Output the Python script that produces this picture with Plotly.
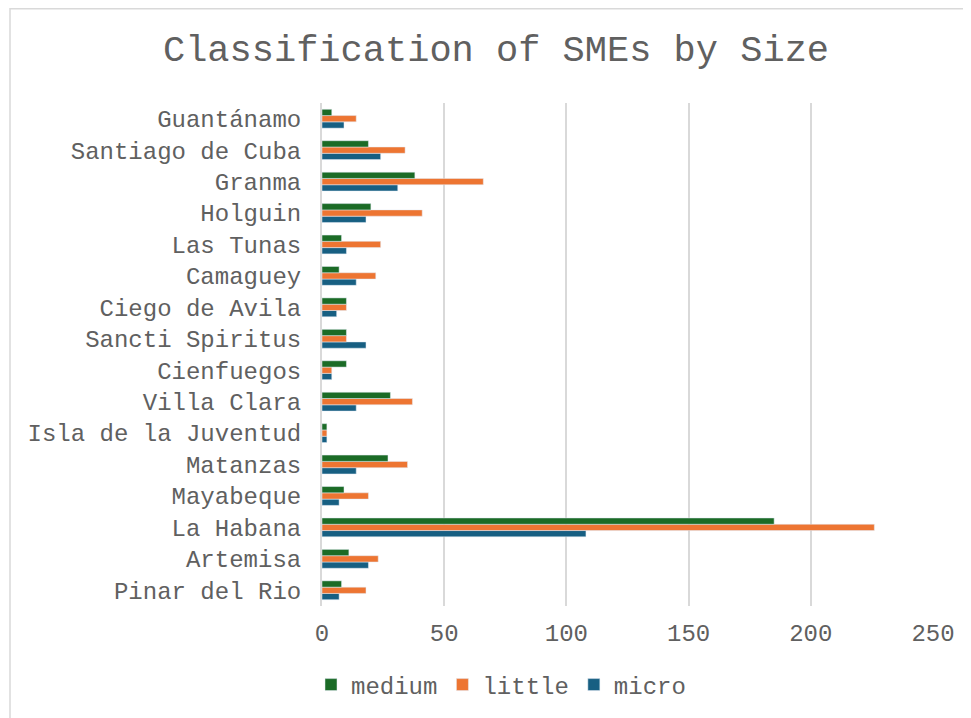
import plotly.graph_objects as go

provinces = ["Pinar del Rio", "Artemisa", "La Habana", "Mayabeque", "Matanzas",
             "Isla de la Juventud", "Villa Clara", "Cienfuegos", "Sancti Spiritus",
             "Ciego de Avila", "Camaguey", "Las Tunas", "Holguin", "Granma",
             "Santiago de Cuba", "Guantánamo"]
medium = [8, 11, 185, 9, 27, 2, 28, 10, 10, 10, 7, 8, 20, 38, 19, 4]
little = [18, 23, 226, 19, 35, 2, 37, 4, 10, 10, 22, 24, 41, 66, 34, 14]
micro = [7, 19, 108, 7, 14, 2, 14, 4, 18, 6, 14, 10, 18, 31, 24, 9]
x_ticks = [0, 50, 100, 150, 200, 250]

FONT = "Liberation Mono, Courier New, monospace"
GREY = "#606060"

fig = go.Figure()
fig.add_trace(go.Bar(name="micro", y=provinces, x=micro, orientation="h",
                     marker=dict(color="#175f82")))
fig.add_trace(go.Bar(name="little", y=provinces, x=little, orientation="h",
                     marker=dict(color="#ed7532")))
fig.add_trace(go.Bar(name="medium", y=provinces, x=medium, orientation="h",
                     marker=dict(color="#1b6b26")))

OFF = 8  # page body margin
W, H = 971 - OFF, 718 - OFF
L, T = 322 - OFF, 103 - OFF
R = 971 - 933
B = 718 - 606
PW, PH = W - L - R, H - T - B

fig.update_layout(
    width=W, height=H,
    margin=dict(l=L, r=R, t=T, b=B, autoexpand=False),
    paper_bgcolor="white", plot_bgcolor="white",
    barmode="group", bargap=0.40, bargroupgap=0,
    font=dict(family=FONT, color=GREY, size=24),
    title=dict(text="Classification of SMEs by Size", x=(496 - OFF) / W, xref="container",
               xanchor="center", y=1 - (48 - OFF) / H, yref="container", yanchor="middle",
               font=dict(family=FONT, size=37, color=GREY)),
    xaxis=dict(range=[0, 250], tickvals=x_ticks, showgrid=True, gridcolor="#d9d9d9",
               gridwidth=2, zeroline=False, showline=False, ticks="outside", ticklen=0,
               ticklabelstandoff=5,
               tickfont=dict(family=FONT, size=24, color=GREY), fixedrange=True),
    yaxis=dict(showline=True, linecolor="#d9d9d9", linewidth=2, ticks="outside",
               ticklen=0, ticklabelstandoff=14, showgrid=False,
               tickfont=dict(family=FONT, size=24, color=GREY),
               categoryorder="array", categoryarray=provinces),
    legend=dict(orientation="h", traceorder="reversed", x=(501 - OFF - L) / PW,
                xanchor="center", y=-(685 - 606) / PH, yanchor="middle",
                font=dict(family=FONT, size=24, color=GREY), itemwidth=30),
    showlegend=True,
    shapes=[dict(type="rect", xref="paper", yref="paper",
                 x0=(10 - OFF - L) / PW, x1=(W + 5 - L) / PW,
                 y0=-(B + 5) / PH, y1=1 + (T - 0.75) / PH,
                 line=dict(color="#d9d9d9", width=1.5), fillcolor="rgba(0,0,0,0)",
                 layer="below")],
)

fig.write_html("out.html")
